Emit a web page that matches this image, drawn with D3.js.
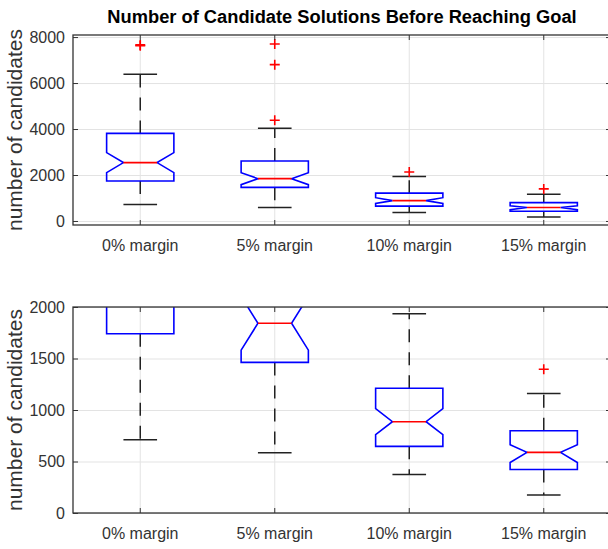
<!DOCTYPE html>
<html>
<head>
<meta charset="utf-8">
<script src="https://cdn.jsdelivr.net/npm/d3@7"></script>
<style>
  body { margin: 0; background: #fff; }
  svg { display: block; font-family: "Liberation Sans", Arial, Helvetica, sans-serif; }
</style>
</head>
<body>
<div id="chart"></div>
<script>
// box plot stats
const categories = ['0% margin', '5% margin', '10% margin', '15% margin'];
const lowerWhisker = [712, 585, 374, 174];
const q1 = [1740, 1462, 647, 422];
const median = [2540, 1842, 886, 589];
const q3 = [3810, 2610, 1211, 799];
const upperWhisker = [6380, 4030, 1935, 1160];
const notchLow = [2105, 1581, 760, 490];
const notchHigh = [2975, 2103, 1013, 662];
const outliers = [[7620, 7660], [7700, 6800, 4380], [2130], [1395]];

const topTicks = [0, 2000, 4000, 6000, 8000];
const bottomTicks = [0, 500, 1000, 1500, 2000];

const width = 608;
const height = 549;

const data = categories.map((c, i) => ({
  cat: c, lo: lowerWhisker[i], q1: q1[i], med: median[i], q3: q3[i],
  hi: upperWhisker[i], nLo: notchLow[i], nHi: notchHigh[i], out: outliers[i]
}));

const svg = d3.select('#chart')
  .append('svg')
  .attr('width', width)
  .attr('height', height);

const x = d3.scaleBand()
  .domain(categories)
  .range([73, 611])
  .padding(0);

function panel(id, top, bottom, domain, ticks) {
  const y = d3.scaleLinear().domain(domain).range([bottom, top]);
  const left = x.range()[0], right = x.range()[1];
  const g = svg.append('g');

  svg.append('clipPath').attr('id', id)
    .append('rect').attr('x', left).attr('y', top)
    .attr('width', right - left).attr('height', bottom - top);

  // grid
  g.append('g')
    .attr('transform', `translate(${left},0)`)
    .call(d3.axisLeft(y).tickValues(ticks).tickSize(-(right - left)).tickFormat(''))
    .call(a => a.select('.domain').remove())
    .selectAll('line').attr('stroke', '#e3e3e3');
  g.append('g')
    .attr('transform', `translate(0,${bottom})`)
    .call(d3.axisBottom(x).tickSize(-(bottom - top)).tickFormat(''))
    .call(a => a.select('.domain').remove())
    .selectAll('line').attr('stroke', '#e3e3e3');

  const marks = g.append('g').attr('clip-path', `url(#${id})`);
  const bw = x.bandwidth() * 0.5;
  const hw = bw / 2;

  const boxes = marks.selectAll('g.box').data(data).join('g').attr('class', 'box');

  boxes.each(function(d) {
    const s = d3.select(this);
    const cx = x(d.cat) + x.bandwidth() / 2;

    // whiskers
    s.append('line')
      .attr('x1', cx).attr('x2', cx).attr('y1', y(d.q3)).attr('y2', y(d.hi))
      .attr('stroke', '#222').attr('stroke-width', 1.5).attr('stroke-dasharray', '13,10');
    s.append('line')
      .attr('x1', cx).attr('x2', cx).attr('y1', y(d.q1)).attr('y2', y(d.lo))
      .attr('stroke', '#222').attr('stroke-width', 1.5).attr('stroke-dasharray', '13,10');
    [d.hi, d.lo].forEach(v => {
      s.append('line')
        .attr('x1', cx - hw / 2).attr('x2', cx + hw / 2).attr('y1', y(v)).attr('y2', y(v))
        .attr('stroke', '#222').attr('stroke-width', 1.5);
    });

    // notched box
    const pts = [
      [cx - hw, y(d.q3)], [cx + hw, y(d.q3)], [cx + hw, y(d.nHi)], [cx + hw / 2, y(d.med)],
      [cx + hw, y(d.nLo)], [cx + hw, y(d.q1)], [cx - hw, y(d.q1)], [cx - hw, y(d.nLo)],
      [cx - hw / 2, y(d.med)], [cx - hw, y(d.nHi)]
    ];
    s.append('path')
      .attr('d', d3.line()(pts) + 'Z')
      .attr('fill', 'none').attr('stroke', '#0000ff').attr('stroke-width', 1.6);

    s.append('line')
      .attr('x1', cx - hw / 2).attr('x2', cx + hw / 2).attr('y1', y(d.med)).attr('y2', y(d.med))
      .attr('stroke', '#ff0000').attr('stroke-width', 1.6);

    s.selectAll('path.out').data(d.out).join('path')
      .attr('class', 'out')
      .attr('d', v => `M${cx - 5},${y(v)}H${cx + 5}M${cx},${y(v) - 5}V${y(v) + 5}`)
      .attr('stroke', '#ff0000').attr('stroke-width', 1.6);
  });

  // axes with inward ticks
  const axisColor = '#333';
  const yl = g.append('g')
    .attr('transform', `translate(${left},0)`)
    .call(d3.axisLeft(y).tickValues(ticks).tickSize(-5).tickFormat(d3.format('d')))
    .call(a => a.select('.domain').remove());
  yl.selectAll('text').attr('font-size', 16).attr('fill', axisColor).attr('x', -8);
  yl.selectAll('line').attr('stroke', axisColor);

  g.append('g')
    .attr('transform', `translate(${right},0)`)
    .call(d3.axisRight(y).tickValues(ticks).tickSize(-5).tickFormat(''))
    .call(a => a.select('.domain').remove())
    .selectAll('line').attr('stroke', axisColor);

  const xb = g.append('g')
    .attr('transform', `translate(0,${bottom})`)
    .call(d3.axisBottom(x).tickSize(-5))
    .call(a => a.select('.domain').remove());
  xb.selectAll('text').attr('font-size', 16).attr('fill', axisColor).attr('y', 15);
  xb.selectAll('line').attr('stroke', axisColor);

  g.append('g')
    .attr('transform', `translate(0,${top})`)
    .call(d3.axisTop(x).tickSize(-5).tickFormat(''))
    .call(a => a.select('.domain').remove())
    .selectAll('line').attr('stroke', axisColor);

  g.append('rect')
    .attr('x', left).attr('y', top)
    .attr('width', right - left).attr('height', bottom - top)
    .attr('fill', 'none').attr('stroke', axisColor).attr('stroke-width', 1.3);

  g.append('text')
    .attr('transform', `translate(22,${(top + bottom) / 2}) rotate(-90)`)
    .attr('text-anchor', 'middle')
    .attr('font-size', 21)
    .attr('fill', axisColor)
    .text('number of candidates');
}

panel('clipTop', 35, 225, [-175, 8090], topTicks);
panel('clipBottom', 307, 513, [0, 2000], bottomTicks);

svg.append('text')
  .attr('x', 342)
  .attr('y', 23)
  .attr('text-anchor', 'middle')
  .attr('font-size', 18.3)
  .attr('font-weight', 'bold')
  .attr('fill', '#000')
  .text('Number of Candidate Solutions Before Reaching Goal');
</script>
</body>
</html>
